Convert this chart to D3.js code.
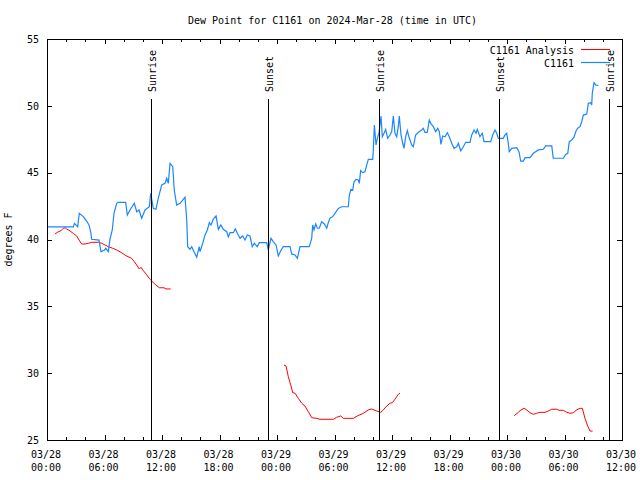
<!DOCTYPE html>
<html>
<head>
<meta charset="utf-8">
<script src="https://cdn.jsdelivr.net/npm/d3@7"></script>
<style>
  body { margin: 0; background: #fff; }
  text { font-family: "DejaVu Sans Mono", monospace; font-size: 10px; fill: #000; }
</style>
</head>
<body>
<div id="chart"></div>
<script>
var title = "Dew Point for C1161 on 2024-Mar-28 (time in UTC)";
var yTitle = "degrees F";
var stationName = "C1161";
var analysisName = "C1161 Analysis";

// hours are counted from 2024-03-28 00:00 UTC
var startDay = Date.UTC(2024, 2, 28);
var xRangeHours = [0, 60];
var xMajorHours = [0, 6, 12, 18, 24, 30, 36, 42, 48, 54, 60];
var xMinorHours = [2, 4, 8, 10, 14, 16, 20, 22, 26, 28, 32, 34, 38, 40, 44, 46, 50, 52, 56, 58];
var yRange = [25, 55];
var yTicks = [25, 30, 35, 40, 45, 50, 55];

var sunNames = ["Sunrise", "Sunset", "Sunrise", "Sunset", "Sunrise"];
var sunHours = [10.82, 23.09, 34.68, 47.20, 58.68];

// station observations
var obsHours = [0.10, 2.74, 2.87, 3.20, 3.37, 3.79, 4.14, 4.38, 4.56, 4.66, 5.43, 5.63, 5.98, 6.13, 6.40, 6.57, 6.81, 6.99, 7.27, 7.44,
  8.21, 8.38, 8.66, 9.11, 9.36, 9.60, 9.88, 10.23, 10.68, 10.82, 11.09, 11.37, 11.61, 11.97, 12.31, 12.49, 12.66, 12.84, 13.12, 13.28,
  13.53, 13.88, 14.40, 14.58, 14.68, 14.92, 15.10, 15.34, 15.62, 15.89, 15.97, 16.25, 16.49, 16.73, 16.94, 17.11, 17.35, 17.64, 17.88, 18.13,
  18.40, 18.75, 18.92, 19.10, 19.44, 19.65, 19.86, 20.14, 20.42, 20.66, 20.90, 21.18, 21.42, 21.63, 21.94, 22.15, 22.93, 23.09, 23.37, 23.61,
  23.90, 24.14, 24.39, 24.66, 25.36, 25.53, 25.88, 26.12, 26.40, 27.37, 27.62, 27.73, 27.86, 28.04, 28.21, 28.41, 28.66, 28.94, 29.19, 29.35,
  29.53, 29.81, 30.05, 30.40, 30.75, 31.44, 31.55, 31.72, 31.90, 32.04, 32.24, 32.48, 32.59, 32.73, 32.94, 33.18, 33.36, 33.53, 33.99, 34.05,
  34.16, 34.33, 34.47, 34.64, 34.85, 34.99, 35.17, 35.34, 35.55, 35.79, 35.97, 36.14, 36.31, 36.49, 36.66, 36.76, 36.94, 37.12, 37.25, 37.43,
  37.60, 37.81, 38.06, 38.22, 38.47, 38.75, 39.10, 39.27, 39.44, 39.68, 39.89, 40.04, 40.31, 40.56, 40.77, 40.94, 41.11, 41.29, 41.53, 41.77,
  41.98, 42.23, 42.47, 42.75, 42.92, 43.17, 43.44, 43.69, 44.14, 44.32, 44.56, 44.77, 44.90, 45.18, 45.42, 45.60, 46.30, 46.51, 46.75, 46.93,
  47.09, 47.61, 47.79, 47.97, 48.11, 48.24, 48.49, 49.01, 49.25, 49.43, 49.70, 49.88, 50.40, 50.75, 51.27, 51.79, 52.04, 52.67, 52.83, 53.88,
  54.13, 54.34, 54.50, 54.75, 54.99, 55.20, 55.38, 55.62, 55.80, 55.96, 56.32, 56.49, 56.74, 56.84, 56.90, 57.08, 57.26, 57.53];
var obsDew = [40.94, 40.94, 41.21, 40.94, 41.96, 41.71, 41.38, 41.09, 40.58, 40.02, 39.96, 39.09, 39.19, 39.34, 39.09, 40.02, 40.71, 41.96, 42.71, 42.78,
  42.78, 41.83, 42.21, 42.71, 42.08, 42.21, 41.59, 42.21, 42.45, 43.46, 42.33, 42.26, 43.08, 44.08, 44.20, 44.58, 44.20, 45.70, 45.45, 43.70,
  42.58, 42.71, 43.16, 41.46, 39.46, 39.27, 39.46, 39.09, 38.67, 39.46, 39.09, 39.72, 40.34, 40.71, 41.26, 41.09, 41.51, 41.76, 40.76, 41.09,
  40.76, 40.58, 40.21, 40.51, 40.51, 40.79, 40.46, 40.09, 40.26, 39.96, 40.34, 40.26, 39.46, 39.72, 39.46, 39.76, 39.76, 39.22, 40.09, 39.84,
  39.59, 38.77, 39.16, 39.46, 39.46, 38.92, 38.84, 38.59, 39.46, 39.46, 40.09, 41.09, 40.71, 41.16, 40.84, 40.84, 41.33, 41.16, 40.84, 41.26,
  41.59, 41.71, 41.96, 42.33, 42.45, 42.45, 43.33, 43.76, 43.70, 44.32, 44.50, 44.45, 44.20, 45.15, 45.00, 45.07, 45.57, 46.00, 46.00, 46.70,
  48.57, 47.07, 47.57, 47.95, 49.24, 47.69, 47.95, 48.24, 47.57, 47.82, 48.07, 49.24, 47.95, 47.69, 48.44, 49.24, 47.82, 47.20, 46.82, 47.69,
  48.14, 47.57, 47.07, 46.94, 47.82, 48.02, 48.19, 48.32, 48.02, 48.02, 48.94, 48.69, 48.44, 48.07, 48.32, 48.07, 47.12, 47.74, 47.69, 47.99,
  47.69, 47.20, 46.82, 46.94, 47.20, 46.64, 46.94, 47.27, 47.27, 47.82, 48.19, 47.95, 48.24, 47.69, 47.95, 47.32, 47.32, 47.82, 48.19, 47.95,
  47.57, 47.57, 47.82, 47.95, 47.32, 46.57, 46.82, 46.87, 46.57, 45.87, 45.87, 46.12, 46.13, 46.45, 46.70, 46.75, 47.00, 47.00, 46.08, 46.08,
  46.37, 46.45, 47.32, 47.44, 47.65, 48.12, 48.32, 48.44, 48.81, 49.31, 49.39, 50.19, 50.23, 50.06, 50.94, 51.73, 51.56, 51.51];

// analysis, three separate runs
var anaHours1 = [0.83, 1.18, 1.43, 1.70, 1.88, 2.06, 2.40, 2.74, 3.10, 3.34, 3.62, 3.97, 4.31, 4.66, 5.35, 5.71, 6.05, 6.40, 6.86, 7.27,
  7.72, 8.24, 8.84, 9.11, 9.36, 9.63, 9.81, 10.05, 10.33, 10.75, 11.27, 11.72, 12.21, 12.42, 12.91];
var anaDew1 = [40.41, 40.58, 40.64, 40.84, 40.88, 40.79, 40.64, 40.46, 40.26, 39.96, 39.66, 39.66, 39.72, 39.79, 39.79, 39.72, 39.59, 39.46, 39.34, 39.22,
  39.04, 38.79, 38.59, 38.34, 38.09, 37.79, 37.92, 37.67, 37.42, 37.02, 36.65, 36.39, 36.39, 36.30, 36.30];
var anaHours2 = [24.73, 24.94, 25.18, 25.43, 25.64, 25.88, 26.22, 26.58, 26.92, 27.27, 27.62, 28.14, 28.49, 29.88, 30.23, 30.65, 30.92, 31.96, 32.38, 33.01,
  33.53, 33.88, 34.12, 34.40, 34.82, 35.09, 35.45, 35.79, 36.03, 36.31, 36.66, 36.84];
var anaDew2 = [30.61, 30.54, 29.74, 29.12, 28.54, 28.50, 28.12, 27.75, 27.54, 27.12, 26.67, 26.62, 26.55, 26.55, 26.70, 26.80, 26.62, 26.62, 26.80, 27.00,
  27.25, 27.32, 27.25, 27.17, 27.07, 27.25, 27.54, 27.75, 27.79, 28.05, 28.42, 28.50];
var anaHours3 = [48.76, 49.18, 49.46, 49.78, 50.06, 50.40, 50.75, 51.10, 51.44, 51.97, 52.31, 52.67, 53.19, 53.43, 53.88, 54.23, 54.58, 54.92, 55.27, 55.62,
  55.86, 56.14, 56.38, 56.66, 56.94];
var anaDew3 = [26.82, 27.07, 27.25, 27.37, 27.25, 27.04, 26.92, 27.00, 27.07, 27.07, 27.17, 27.30, 27.30, 27.22, 27.22, 27.07, 27.00, 27.04, 27.25, 27.37,
  27.37, 26.62, 26.12, 25.67, 25.67];

var width = 640, height = 480;
var margin = { top: 39, right: 18, bottom: 40, left: 47 };
var plotW = width - margin.left - margin.right;
var plotH = height - margin.top - margin.bottom;
var obsColour = "#1a86ff", anaColour = "#ff0000";

function toDate(h) { return new Date(startDay + h * 3600e3); }
function zip(hs, vs) { return hs.map(function (h, i) { return { t: toDate(h), v: vs[i] }; }); }

var x = d3.scaleUtc().domain(xRangeHours.map(toDate)).range([0, plotW]);
var y = d3.scaleLinear().domain(yRange).range([plotH, 0]);

var svg = d3.select("#chart").append("svg")
  .attr("width", width).attr("height", height);

svg.append("text")
  .attr("x", margin.left + plotW / 2 - 2).attr("y", 24)
  .attr("text-anchor", "middle")
  .text(title);

svg.append("text")
  .attr("transform", "translate(12," + (margin.top + plotH / 2) + ") rotate(-90)")
  .attr("text-anchor", "middle")
  .text(yTitle);

var g = svg.append("g").attr("transform", "translate(" + margin.left + "," + margin.top + ")");

// axes, ticks point inward
var fmtDay = d3.utcFormat("%m/%d"), fmtTime = d3.utcFormat("%H:%M");

var xBottom = g.append("g").attr("transform", "translate(0," + plotH + ")")
  .call(d3.axisBottom(x).tickValues(xMajorHours.map(toDate)).tickSize(-5).tickSizeOuter(0).tickFormat(""));
xBottom.selectAll(".tick text").each(function (d) {
  var t = d3.select(this).attr("dy", null).attr("y", null);
  t.append("tspan").attr("x", -1.5).attr("y", 18).text(fmtDay(d));
  t.append("tspan").attr("x", -1.5).attr("y", 31).text(fmtTime(d));
});
g.append("g").attr("transform", "translate(0," + plotH + ")")
  .call(d3.axisBottom(x).tickValues(xMinorHours.map(toDate)).tickSize(-3).tickSizeOuter(0).tickFormat(""));
g.append("g")
  .call(d3.axisTop(x).tickValues(xMajorHours.map(toDate)).tickSize(-5).tickSizeOuter(0).tickFormat(""));
g.append("g")
  .call(d3.axisTop(x).tickValues(xMinorHours.map(toDate)).tickSize(-3).tickSizeOuter(0).tickFormat(""));

g.append("g")
  .call(d3.axisLeft(y).tickValues(yTicks).tickSize(-5).tickSizeOuter(0).tickPadding(8).tickFormat(d3.format("d")));
g.append("g").attr("transform", "translate(" + plotW + ",0)")
  .call(d3.axisRight(y).tickValues(yTicks).tickSize(-5).tickSizeOuter(0).tickFormat(""));

g.selectAll(".domain").remove();
g.selectAll(".tick line").attr("stroke", "#000").attr("shape-rendering", "crispEdges");
g.selectAll(".tick text").style("font-family", "\"DejaVu Sans Mono\", monospace").style("font-size", "10px").attr("fill", "#000");

g.append("rect")
  .attr("width", plotW).attr("height", plotH)
  .attr("fill", "none").attr("stroke", "#000")
  .attr("shape-rendering", "crispEdges");

// data lines
var line = d3.line().x(function (d) { return x(d.t); }).y(function (d) { return y(d.v); });

[zip(anaHours1, anaDew1), zip(anaHours2, anaDew2), zip(anaHours3, anaDew3)].forEach(function (seg) {
  g.append("path").datum(seg)
    .attr("fill", "none").attr("stroke", anaColour).attr("stroke-width", 1)
    .attr("d", line);
});

g.append("path").datum(zip(obsHours, obsDew))
  .attr("fill", "none").attr("stroke", obsColour).attr("stroke-width", 1.2)
  .attr("d", line);

// sunrise / sunset markers
var markerTop = 60;
var sun = g.selectAll(".sun").data(sunHours).enter().append("g")
  .attr("class", "sun")
  .attr("transform", function (h) { return "translate(" + Math.round(x(toDate(h))) + ",0)"; });
sun.append("line")
  .attr("x1", 0.5).attr("x2", 0.5).attr("y1", markerTop).attr("y2", plotH)
  .attr("stroke", "#000");
sun.append("text")
  .attr("transform", "translate(4.5," + (markerTop - 7) + ") rotate(-90)")
  .text(function (h, i) { return sunNames[i]; });

// legend
var legend = svg.append("g").attr("transform", "translate(574,50)");
[[analysisName, anaColour, 1], [stationName, obsColour, 1.2]].forEach(function (item, i) {
  var row = legend.append("g").attr("transform", "translate(0," + (i * 13) + ")");
  row.append("text").attr("text-anchor", "end").attr("y", 4).text(item[0]);
  row.append("line").attr("x1", 7).attr("x2", 36).attr("y1", -0.5).attr("y2", -0.5)
    .attr("stroke", item[1]).attr("stroke-width", item[2]);
});
</script>
</body>
</html>
